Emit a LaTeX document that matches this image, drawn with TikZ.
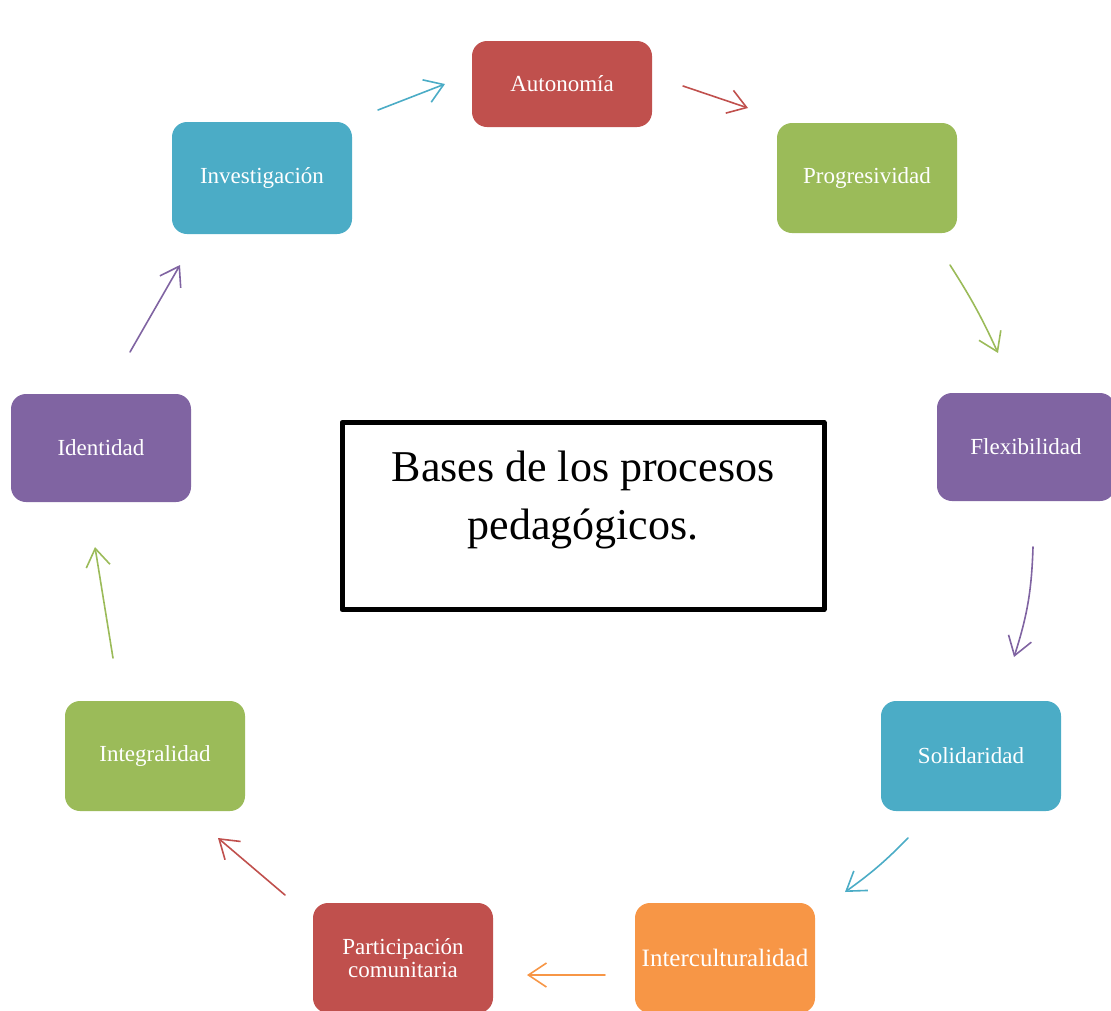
\documentclass[tikz,border=0pt]{standalone}
\usepackage{fontspec}
\setmainfont{Liberation Serif}
\usetikzlibrary{arrows.meta}

\definecolor{baseRed}{HTML}{C0504D}
\definecolor{baseGreen}{HTML}{9BBB59}
\definecolor{basePurple}{HTML}{8064A2}
\definecolor{baseTeal}{HTML}{4BACC6}
\definecolor{baseOrange}{HTML}{F79646}

\begin{document}
\begin{tikzpicture}[x=1pt, y=-1pt, >={Straight Barb[length=18pt,width=24pt]},
    line cap=round, line join=round,
    base/.style={rounded corners=15pt, minimum width=180pt, minimum height=110pt,
      inner sep=0pt, align=center, text=white, font=\fontsize{23}{23}\selectfont},
    flow/.style={->, line width=1.6pt}]

          % Page size of the reference
          \useasboundingbox (0,0) rectangle (1111,1010);

          % The nine coloured boxes, clockwise from the top
          \node[base, fill=baseRed, minimum height=86pt] (auto) at (562,84) {Autonomía};
          \node[base, fill=baseGreen] (prog) at (867,178) {Progresividad};
          \node[base, fill=basePurple, minimum width=178pt, minimum height=108pt] (flex) at (1026,447) {Flexibilidad};
          \node[base, fill=baseTeal] (soli) at (971,756) {Solidaridad};
          \node[base, fill=baseOrange, font=\fontsize{25}{25}\selectfont] (inter) at (725,958) {Interculturalidad};
          \node[base, fill=baseRed] (part) at (403,958) {Participación\\comunitaria};
          \node[base, fill=baseGreen] (integ) at (155,756) {Integralidad};
          \node[base, fill=basePurple, minimum height=108pt] (iden) at (101,448) {Identidad};
          \node[base, fill=baseTeal, minimum height=112pt] (inv) at (262,178) {Investigación};

          % Framed title in the middle
          \node[draw, line width=5pt, minimum width=482pt, minimum height=187pt] (frame) at (583,516) {};
          \node[font=\fontsize{44}{58}\selectfont, align=center] (title) at (583,500)
               {Bases de los procesos\\pedagógicos.};

          % Start and end points of the arrows between the boxes
          \coordinate (invOut)   at (378,110);  \coordinate (autoIn)  at (445,84);
          \coordinate (autoOut)  at (683,86);   \coordinate (progIn)  at (748,108);
          \coordinate (progOut)  at (950,265);  \coordinate (flexIn)  at (998,353);
          \coordinate (flexOut)  at (1033,547); \coordinate (soliIn)  at (1014,657);
          \coordinate (soliOut)  at (908,838);  \coordinate (interIn) at (845,892);
          \coordinate (interOut) at (605,975);  \coordinate (partIn)  at (527,975);
          \coordinate (partOut)  at (285,895);  \coordinate (integIn) at (218,838);
          \coordinate (integOut) at (113,658);  \coordinate (idenIn)  at (95,547);
          \coordinate (idenOut)  at (130,352);  \coordinate (invIn)   at (180,265);

          % Arrows, each in the colour of the box it leaves
          \draw[flow, baseTeal]   (invOut) -- (autoIn);
          \draw[flow, baseRed]    (autoOut) -- (progIn);
          \draw[flow, baseGreen]  (progOut) to[bend left=4] (flexIn);
          \draw[flow, basePurple] (flexOut) to[bend left=8] (soliIn);
          \draw[flow, baseTeal]   (soliOut) to[bend left=5] (interIn);
          \draw[flow, baseOrange] (interOut) -- (partIn);
          \draw[flow, baseRed]    (partOut) -- (integIn);
          \draw[flow, baseGreen]  (integOut) -- (idenIn);
          \draw[flow, basePurple] (idenOut) -- (invIn);
        \end{tikzpicture}
\end{document}
